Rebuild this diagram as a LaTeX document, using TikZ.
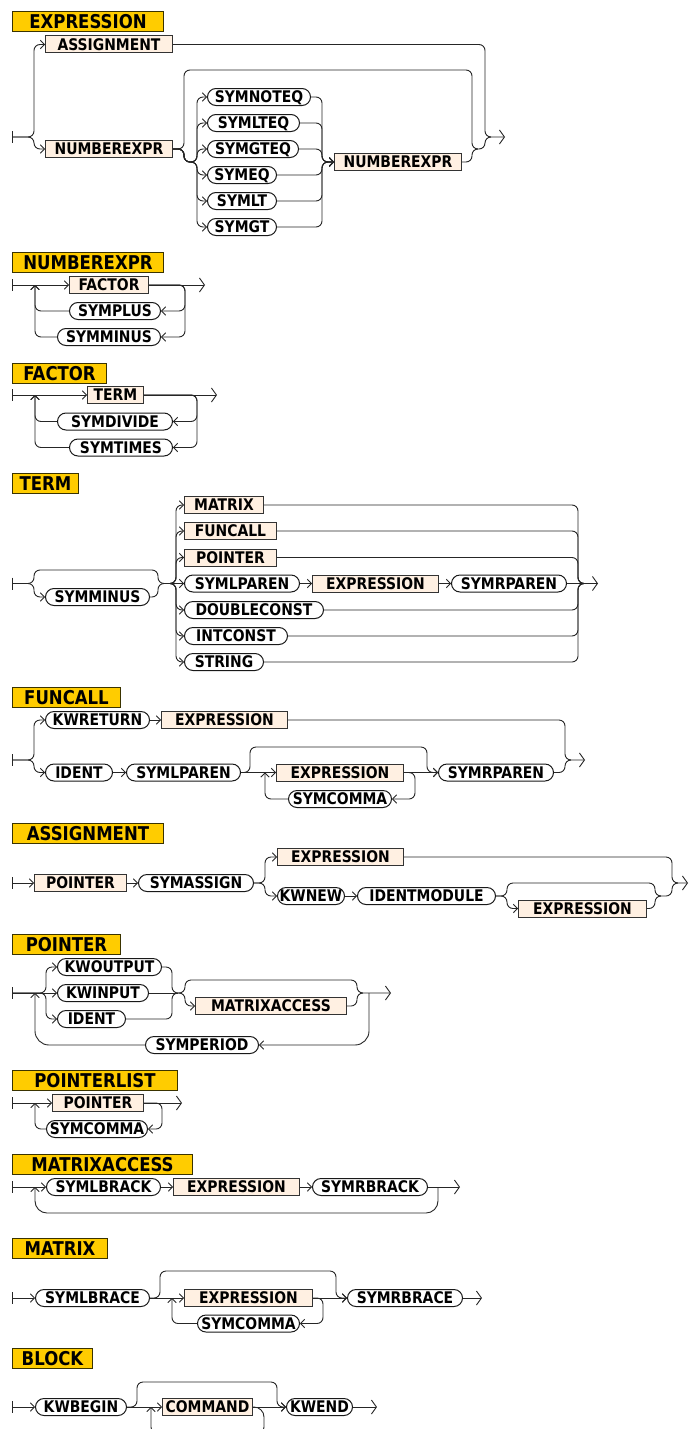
\documentclass[tikz,border=0pt]{standalone}
\usepackage{fontspec}
\newfontfamily\rrfont{DejaVu Sans}[FakeStretch=0.87]
\usetikzlibrary{arrows.meta}
\definecolor{linec}{HTML}{262626}
\definecolor{titlefill}{HTML}{FFCC00}
\definecolor{titleedge}{HTML}{3A3300}
\definecolor{ntfill}{HTML}{FFF0E2}
\definecolor{ntedge}{HTML}{333333}
\newcommand\rrstart[1]{\draw[bar] ([yshift=6pt]#1) -- ([yshift=-6pt]#1);}
\tikzset{
  rr/.style={draw=linec, line width=0.9pt, rounded corners=6pt},
  bar/.style={draw=linec, line width=0.9pt},
  >={Straight Barb[length=4pt,width=8.5pt]},
  fin/.style={-{Straight Barb[length=5pt,width=14pt]}},
  box/.style={anchor=west, minimum height=17pt, inner sep=0pt,
    text height=11.6pt, text depth=0pt, line width=1pt,
    font=\rrfont\bfseries\fontsize{16pt}{17pt}\selectfont},
  nt/.style={box, draw=ntedge, fill=ntfill},
  tm/.style={box, draw=black!90, fill=white, rounded corners=8.5pt},
  title/.style={anchor=north west, draw=titleedge, fill=titlefill,
    line width=1pt, minimum height=20pt, inner sep=0pt,
    text height=13.8pt, text depth=0pt,
    font=\rrfont\bfseries\fontsize{19pt}{20pt}\selectfont},
}
\begin{document}
\begin{tikzpicture}[x=1pt, y=-1pt]
\useasboundingbox (0,0) rectangle (690,1429);
\fill[white] (0,0) rectangle (690,1429);
\clip (0,0) rectangle (690,1429);

% ---------------- EXPRESSION ----------------
\node[title, minimum width=151pt] (e-t) at (12,11) {EXPRESSION};
\coordinate (e-s) at (12,137);
\coordinate (e-end) at (505,137);
\rrstart{e-s}
\node[nt, minimum width=127pt] (e-assign) at (45,44.5) {ASSIGNMENT};
\node[nt, minimum width=127pt] (e-nexpr) at (45,149) {NUMBEREXPR};
\node[tm, minimum width=103pt] (e-noteq) at (207,97) {SYMNOTEQ};
\node[tm, minimum width=92pt] (e-lteq) at (207,123) {SYMLTEQ};
\node[tm, minimum width=91pt] (e-gteq) at (207,149) {SYMGTEQ};
\node[tm, minimum width=69pt] (e-eq) at (207,175) {SYMEQ};
\node[tm, minimum width=69pt] (e-lt) at (207,201) {SYMLT};
\node[tm, minimum width=69pt] (e-gt) at (207,227) {SYMGT};
\node[nt, minimum width=127pt] (e-nexpr2) at (334,162) {NUMBEREXPR};
\draw[rr,->] (e-s) -| (34,44.5) -- (e-assign.west);
\draw[rr,->] (e-s) -| (34,149) -- (e-nexpr.west);
\draw[rr,fin] (e-assign.east) -| (485,137) -- (e-end);
\draw[rr] (e-nexpr.east) -| (184,70) -| (472,149) -- (478,149);
\foreach \n/\y in {noteq/97,lteq/123,gteq/149,eq/175,lt/201,gt/227} {
  \draw[rr,->] (e-nexpr.east) -| (184,162) -| (197,\y) -- (e-\n.west);
  \draw[rr,->] (e-\n.east) -| (322,162) -- (e-nexpr2.west);
}
\draw[rr] (e-nexpr2.east) -| (472,149) -| (485,137) -- (491,137);

% ---------------- NUMBEREXPR ----------------
\node[title, minimum width=151pt] (n-t) at (12,252) {NUMBEREXPR};
\coordinate (n-s) at (12,285);
\coordinate (n-end) at (205,285);
\coordinate (n-back) at (35,285);
\rrstart{n-s}
\node[nt, minimum width=79pt] (n-fac) at (69,285) {FACTOR};
\node[tm, minimum width=91pt] (n-plus) at (69,311) {SYMPLUS};
\node[tm, minimum width=103pt] (n-minus) at (57,337) {SYMMINUS};
\draw[rr,->] (n-s) -- (n-fac.west);
\draw[rr,fin] (n-fac.east) -- (n-end);
\draw[rr,->] (n-fac.east) -| (185,311) -- (n-plus.east);
\draw[rr,->] (n-fac.east) -| (185,337) -- (n-minus.east);
\draw[rr,->] (n-plus.west) -| (n-back);
\draw[rr,->] (n-minus.west) -| (n-back);

% ---------------- FACTOR ----------------
\node[title, minimum width=94pt] (f-t) at (12,363) {FACTOR};
\coordinate (f-s) at (12,395);
\coordinate (f-end) at (217,395);
\coordinate (f-back) at (35,395);
\rrstart{f-s}
\node[nt, minimum width=56pt] (f-term) at (87,395) {TERM};
\node[tm, minimum width=115pt] (f-div) at (57,421.5) {SYMDIVIDE};
\node[tm, minimum width=103pt] (f-times) at (69,447.5) {SYMTIMES};
\draw[rr,->] (f-s) -- (f-term.west);
\draw[rr,fin] (f-term.east) -- (f-end);
\draw[rr,->] (f-term.east) -| (197,421.5) -- (f-div.east);
\draw[rr,->] (f-term.east) -| (197,447.5) -- (f-times.east);
\draw[rr,->] (f-div.west) -| (f-back);
\draw[rr,->] (f-times.west) -| (f-back);

% ---------------- TERM ----------------
\node[title, minimum width=66pt] (t-t) at (12,473) {TERM};
\coordinate (t-s) at (12,583.5);
\coordinate (t-ft) at (164,583.5);
\coordinate (t-mt) at (584,583.5);
\coordinate (t-end) at (598,583.5);
\rrstart{t-s}
\node[tm, minimum width=104pt] (t-minus) at (45,597) {SYMMINUS};
\node[nt, minimum width=79pt] (t-mat) at (184,505) {MATRIX};
\node[nt, minimum width=92pt] (t-fun) at (184,531) {FUNCALL};
\node[nt, minimum width=92pt] (t-ptr) at (184,557.5) {POINTER};
\node[tm, minimum width=115pt] (t-lp) at (184,583.5) {SYMLPAREN};
\node[nt, minimum width=126pt] (t-ex) at (312,583.5) {EXPRESSION};
\node[tm, minimum width=115pt] (t-rp) at (451,583.5) {SYMRPAREN};
\node[tm, minimum width=139pt] (t-dbl) at (184,610) {DOUBLECONST};
\node[tm, minimum width=103pt] (t-int) at (184,636) {INTCONST};
\node[tm, minimum width=79pt] (t-str) at (184,662) {STRING};
\draw[rr] (t-s) -| (34,570) -| (158,583.5) -- (t-ft);
\draw[rr,->] (t-s) -| (34,597) -- (t-minus.west);
\draw[rr] (t-minus.east) -| (158,583.5) -- (t-ft);
\foreach \n/\y in {mat/505,fun/531,ptr/557.5,dbl/610,int/636,str/662} {
  \draw[rr,->] (t-ft) -| (176,\y) -- (t-\n.west);
  \draw[rr] (t-\n.east) -| (578,583.5) -- (t-mt);
}
\draw[rr,->] (t-ft) -- (t-lp.west);
\draw[rr,->] (t-lp) -- (t-ex);
\draw[rr,->] (t-ex) -- (t-rp);
\draw[rr,fin] (t-rp.east) -- (t-end);

% ---------------- FUNCALL ----------------
\node[title, minimum width=108pt] (c-t) at (12,687) {FUNCALL};
\coordinate (c-s) at (12,760);
\coordinate (c-end) at (585,760);
\coordinate (c-back) at (265,772.5);
\rrstart{c-s}
\node[tm, minimum width=104pt] (c-ret) at (45,720) {KWRETURN};
\node[nt, minimum width=126pt] (c-ex1) at (161,720) {EXPRESSION};
\node[tm, minimum width=67pt] (c-id) at (45,772.5) {IDENT};
\node[tm, minimum width=114pt] (c-lp) at (126,772.5) {SYMLPAREN};
\node[nt, minimum width=127pt] (c-ex2) at (276,772.5) {EXPRESSION};
\node[tm, minimum width=103pt] (c-com) at (288,799) {SYMCOMMA};
\node[tm, minimum width=115pt] (c-rp) at (438,772.5) {SYMRPAREN};
\draw[rr,->] (c-s) -| (34,720) -- (c-ret.west);
\draw[rr,->] (c-s) -| (34,772.5) -- (c-id.west);
\draw[rr,->] (c-ret) -- (c-ex1);
\draw[rr,->] (c-id) -- (c-lp);
\draw[rr,->] (c-lp) -- (c-ex2);
\draw[rr,->] (c-ex2) -- (c-rp);
\draw[rr,->] (c-lp.east) -| (250,747) -| (427,772.5) -- (c-rp.west);
\draw[rr,->] (c-ex2.east) -| (415,799) -- (c-com.east);
\draw[rr,->] (c-com.west) -| (c-back);
\draw[rr,fin] (c-ex1.east) -| (565,760) -- (c-end);
\draw[rr] (c-rp.east) -| (565,760) -- (571,760);

% ---------------- ASSIGNMENT ----------------
\node[title, minimum width=151pt] (a-t) at (12,823) {ASSIGNMENT};
\coordinate (a-s) at (12,883);
\coordinate (a-end) at (688,883);
\rrstart{a-s}
\node[nt, minimum width=92pt] (a-ptr) at (34,883) {POINTER};
\node[tm, minimum width=115pt] (a-asg) at (138,883) {SYMASSIGN};
\node[nt, minimum width=126pt] (a-ex1) at (277,857) {EXPRESSION};
\node[tm, minimum width=67pt] (a-new) at (277,896) {KWNEW};
\node[tm, minimum width=138pt] (a-idm) at (357,896) {IDENTMODULE};
\node[nt, minimum width=128pt] (a-ex2) at (518,908.5) {EXPRESSION};
\draw[rr,->] (a-s) -- (a-ptr);
\draw[rr,->] (a-ptr) -- (a-asg);
\draw[rr,->] (a-asg.east) -| (265,857) -- (a-ex1.west);
\draw[rr,->] (a-asg.east) -| (265,896) -- (a-new.west);
\draw[rr,->] (a-new) -- (a-idm);
\draw[rr] (a-idm.east) -| (507,883) -| (655,896) -| (672,883) -- (678,883);
\draw[rr,->] (a-idm.east) -| (507,908.5) -- (a-ex2.west);
\draw[rr] (a-ex2.east) -| (655,896) -- (661,896);
\draw[rr,fin] (a-ex1.east) -| (672,883) -- (a-end);

% ---------------- POINTER ----------------
\node[title, minimum width=108pt] (p-t) at (12,934) {POINTER};
\coordinate (p-s) at (12,993);
\coordinate (p-c1) at (178,993);
\coordinate (p-lr) at (369,993);
\coordinate (p-end) at (391,993);
\coordinate (p-back) at (35,993);
\rrstart{p-s}
\node[tm, minimum width=104pt] (p-out) at (57,967) {KWOUTPUT};
\node[tm, minimum width=91pt] (p-in) at (57,993) {KWINPUT};
\node[tm, minimum width=68pt] (p-id) at (57,1019) {IDENT};
\node[nt, minimum width=151pt] (p-ma) at (195,1006) {MATRIXACCESS};
\node[tm, minimum width=113pt] (p-per) at (145,1045) {SYMPERIOD};
\draw[rr,->] (p-s) -| (46,967) -- (p-out.west);
\draw[rr,->] (p-s) -- (p-in.west);
\draw[rr,->] (p-s) -| (46,1019) -- (p-id.west);
\draw[rr] (p-out.east) -| (172,993) -- (p-c1);
\draw[rr] (p-in.east) -- (p-c1);
\draw[rr] (p-id.east) -| (172,993) -- (p-c1);
\draw[rr,fin] (p-c1) -| (185,980) -| (357,993) -- (p-end);
\draw[rr,->] (p-c1) -| (185,1006) -- (p-ma.west);
\draw[rr] (p-ma.east) -| (357,993) -- (363,993);
\draw[rr,->,rounded corners=14pt] (p-lr) |- (p-per.east);
\draw[rr,->,rounded corners=14pt] (p-per.west) -| (p-back);

% ---------------- POINTERLIST ----------------
\node[title, minimum width=165pt] (l-t) at (12,1070) {POINTERLIST};
\coordinate (l-s) at (12,1103);
\coordinate (l-end) at (182,1103);
\coordinate (l-back) at (35,1103);
\rrstart{l-s}
\node[nt, minimum width=91pt] (l-ptr) at (52,1103) {POINTER};
\node[tm, minimum width=101pt] (l-com) at (46,1129) {SYMCOMMA};
\draw[rr,->] (l-s) -- (l-ptr);
\draw[rr,fin] (l-ptr.east) -- (l-end);
\draw[rr,->] (l-ptr.east) -| (162,1129) -- (l-com.east);
\draw[rr,->] (l-com.west) -| (l-back);

% ---------------- MATRIXACCESS ----------------
\node[title, minimum width=180pt] (m-t) at (12,1154) {MATRIXACCESS};
\coordinate (m-s) at (12,1187);
\coordinate (m-end) at (460,1187);
\coordinate (m-lr) at (438,1187);
\coordinate (m-back) at (35,1187);
\rrstart{m-s}
\node[tm, minimum width=114pt] (m-lb) at (46,1187) {SYMLBRACK};
\node[nt, minimum width=126pt] (m-ex) at (173,1187) {EXPRESSION};
\node[tm, minimum width=115pt] (m-rb) at (312,1187) {SYMRBRACK};
\draw[rr,->] (m-s) -- (m-lb);
\draw[rr,->] (m-lb) -- (m-ex);
\draw[rr,->] (m-ex) -- (m-rb);
\draw[rr,fin] (m-rb) -- (m-end);
\draw[rr,->,rounded corners=12pt] (m-lr) |- (200,1213) -| (m-back);

% ---------------- MATRIX ----------------
\node[title, minimum width=95pt] (x-t) at (12,1238) {MATRIX};
\coordinate (x-s) at (12,1298);
\coordinate (x-end) at (482,1298);
\coordinate (x-back) at (172,1298);
\rrstart{x-s}
\node[tm, minimum width=114pt] (x-lb) at (35,1298) {SYMLBRACE};
\node[nt, minimum width=128pt] (x-ex) at (184,1298) {EXPRESSION};
\node[tm, minimum width=102pt] (x-com) at (197,1323.5) {SYMCOMMA};
\node[tm, minimum width=115pt] (x-rb) at (347,1298) {SYMRBRACE};
\draw[rr,->] (x-s) -- (x-lb);
\draw[rr,->] (x-lb) -- (x-ex);
\draw[rr,->] (x-ex) -- (x-rb);
\draw[rr,fin] (x-rb) -- (x-end);
\draw[rr,->] (x-lb.east) -| (160,1271) -| (336,1298) -- (x-rb.west);
\draw[rr,->] (x-ex.east) -| (323,1323.5) -- (x-com.east);
\draw[rr,->] (x-com.west) -| (x-back);

% ---------------- BLOCK ----------------
\node[title, minimum width=80pt] (b-t) at (12,1348) {BLOCK};
\coordinate (b-s) at (12,1407);
\coordinate (b-fin) at (377,1407);
\coordinate (b-back) at (151,1407);
\rrstart{b-s}
\node[tm, minimum width=91pt] (b-beg) at (35,1407) {KWBEGIN};
\node[nt, minimum width=90pt] (b-cmd) at (162,1407) {COMMAND};
\node[tm, minimum width=66pt] (b-kwend) at (286,1407) {KWEND};
\draw[rr,->] (b-s) -- (b-beg);
\draw[rr,->] (b-beg) -- (b-cmd);
\draw[rr,->] (b-cmd) -- (b-kwend);
\draw[rr,fin] (b-kwend) -- (b-fin);
\draw[rr,->] (b-beg.east) -| (137,1382) -| (277,1407) -- (b-kwend.west);
\draw[rr,->,rounded corners=10pt] (b-cmd.east) -| (264,1437) -| (b-back);
\end{tikzpicture}
\end{document}
